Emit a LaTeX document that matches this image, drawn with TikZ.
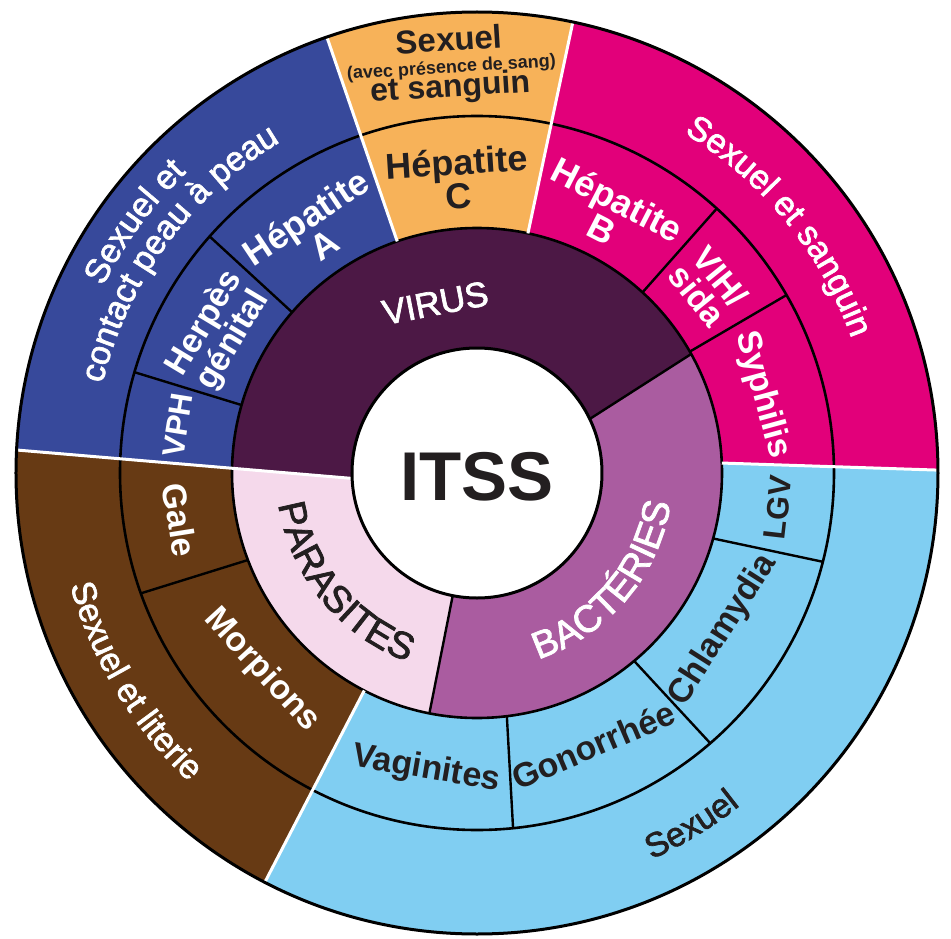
\documentclass[tikz,border=0pt]{standalone}
\usepackage{fontspec}
\setmainfont{Liberation Sans}
\newfontfamily\medfont[FakeBold=2]{Liberation Sans}
\usetikzlibrary{decorations.text}
\definecolor{blueC}{RGB}{55,73,155}
\definecolor{orangeC}{RGB}{247,178,89}
\definecolor{pinkC}{RGB}{226,0,122}
\definecolor{lblueC}{RGB}{128,206,242}
\definecolor{brownC}{RGB}{103,58,20}
\definecolor{virusC}{RGB}{76,24,69}
\definecolor{bactC}{RGB}{170,92,160}
\definecolor{parC}{RGB}{245,217,235}
\definecolor{darkT}{RGB}{35,31,32}
% color, r_in, r_out, a_in_start, a_out_start, a_in_end, a_out_end
\newcommand\ringseg[7]{%
  \fill[#1] (#5:#3pt) arc[start angle=#5, end angle=#7, radius=#3pt]
    -- (#6:#2pt) arc[start angle=#6, end angle=#4, radius=#2pt] -- cycle;}
\newcommand\fRing{\fontsize{34}{30}\selectfont\bfseries}
\newcommand\fHep{\fontsize{36}{30}\selectfont\bfseries}
\newcommand\fOut{\fontsize{34}{34}\selectfont\medfont}
\newcommand\fMid{\fontsize{38}{38}\selectfont\medfont}
\tikzset{
  sepline/.style={draw=black, line width=2.4pt},
  whiteline/.style={draw=white, line width=3pt},
  ringcircle/.style={draw=black, line width=2.6pt},
  lightlabel/.style={text=white, align=center, font=\fRing, inner sep=0pt},
  darklabel/.style={text=darkT, align=center, font=\fRing, inner sep=0pt},
}
\begin{document}
\begin{tikzpicture}[x=1pt,y=1pt]
\useasboundingbox (-477,-465) rectangle (474,473);
% ---- rings 3 and 4 colour groups
\ringseg{blueC}{245}{461}{109}{109}{178.89}{177.14}
\ringseg{brownC}{245}{461}{178.89}{177.14}{242.6}{242.6}
\ringseg{lblueC}{245}{461}{242.6}{242.6}{362.33}{360.36}
\ringseg{pinkC}{245}{461}{2.33}{0.36}{78}{78}
\ringseg{orangeC}{245}{461}{78}{78}{109}{109}
% ---- ring 2
\ringseg{virusC}{125}{245}{25.6}{29.05}{182.49}{178.89}
\ringseg{parC}{125}{245}{182.49}{178.89}{258.8}{258.8}
\ringseg{bactC}{125}{245}{258.8}{258.8}{385.6}{389.05}
% ---- ring circles
\draw[ringcircle] (0,0) circle[radius=245pt];
\draw[ringcircle] (0,0) circle[radius=357pt];
% ---- black separators, ring 3
\draw[sepline] (139:245pt) -- (138.5:357pt);
\draw[sepline] (163.9:245pt) -- (163.6:357pt);
\draw[sepline] (47.5:245pt) -- (47.8:357pt);
\draw[sepline] (29.7:245pt) -- (29.9:357pt);
\draw[sepline] (-15.5:245pt) -- (-14.4:357pt);
\draw[sepline] (-50.1:245pt) -- (-49.2:357pt);
\draw[sepline] (-83:245pt) -- (-84.2:357pt);
\draw[sepline] (200.8:245pt) -- (199.7:357pt);
% ---- black separators, ring 2
\draw[sepline] (25.6:125pt) -- (29.05:245pt);
\draw[sepline] (258.8:125pt) -- (258.8:245pt);
% ---- white separators
\draw[whiteline] (182.49:125pt) -- (177.14:461pt);
\draw[whiteline] (109:245pt) -- (109:461pt);
\draw[whiteline] (78:245pt) -- (78:461pt);
\draw[whiteline] (2.33:245pt) -- (0.36:461pt);
\draw[whiteline] (242.6:245pt) -- (242.6:461pt);
% ---- outer circle and centre
\draw[line width=3pt] (0,0) circle[radius=461pt];
\draw[line width=3pt, fill=white] (0,0) circle[radius=125pt];
\node[text=darkT, font=\fontsize{69}{69}\selectfont\bfseries, inner sep=0pt] (itss) at (0,-4) {ITSS};
% ---- ring 2 labels
\node[text=white, font=\fontsize{35}{35}\selectfont\medfont, anchor=base, rotate=11, inner sep=0pt] (virus) at (104:163pt) {VIRUS};
\path[decorate, decoration={text along path, text={|\fMid|BACTÉRIES}, text align=center, text color=white}]
  (-100.35:196pt) arc[start angle=-100.35, end angle=19.65, radius=196pt];
\path[decorate, decoration={text along path, text={|\fMid|PARASITES}, text align=center, text color=darkT}]
  (159.4:201pt) arc[start angle=159.4, end angle=279.4, radius=201pt];
% ---- ring 3 labels
\node[darklabel, rotate=3.7, font=\fHep] (hepc) at (93.7:295pt) {Hépatite\\C};
\node[lightlabel, rotate=33.8, font=\fHep] (hepa) at (123.8:292pt) {Hépatite\\A};
\node[lightlabel, rotate=59] (herpes) at (151.3:294pt) {Herpès\\génital};
\node[lightlabel, rotate=80.9, font=\fontsize{31}{31}\selectfont\bfseries] (vph) at (170.9:303pt) {VPH};
\node[lightlabel, rotate=-27.2, font=\fHep] (hepb) at (62.8:291pt) {Hépatite\\B};
\node[lightlabel, rotate=-51] (vih) at (38.9:298pt) {VIH/\\sida};
\node[lightlabel, rotate=-74.7] (syph) at (15.3:296pt) {Syphilis};
\node[darklabel, rotate=83.4, font=\fontsize{31}{31}\selectfont\bfseries] (lgv) at (-6.6:303pt) {LGV};
\node[darklabel, rotate=57.5] (chlam) at (-32.5:292pt) {Chlamydia};
\node[darklabel, rotate=23.1] (gono) at (-66.9:296pt) {Gonorrhée};
\node[darklabel, rotate=-9.7] (vagin) at (-99.7:301pt) {Vaginites};
\node[lightlabel, rotate=-47.5] (morp) at (222.5:292pt) {Morpions};
\node[lightlabel, rotate=-81] (gale) at (189:301pt) {Gale};
% ---- ring 4 labels
\node[text=darkT, font=\fontsize{33}{33}\selectfont\bfseries, anchor=base, rotate=3.6, inner sep=0pt] (sx1) at (93.67:423pt) {Sexuel};
\node[text=darkT, font=\fontsize{18}{18}\selectfont\bfseries, anchor=base, rotate=3.6, inner sep=0pt] (sx2) at (93.6:401pt) {(avec présence de sang)};
\node[text=darkT, font=\fontsize{32}{32}\selectfont\bfseries, anchor=base, rotate=3.6, inner sep=0pt] (sx3) at (94:377pt) {et sanguin};
\path[decorate, decoration={text along path, text={|\fOut|Sexuel et}, text align=center, text color=white}]
  (193.75:418pt) arc[start angle=193.75, end angle=93.75, radius=418pt];
\path[decorate, decoration={text along path, text={|\fOut|contact peau à peau}, text align=center, text color=white}]
  (203.65:385pt) arc[start angle=203.65, end angle=83.65, radius=385pt];
\path[decorate, decoration={text along path, text={|\fOut|Sexuel et sanguin}, text align=center, text color=white}]
  (99.2:398pt) arc[start angle=99.2, end angle=-20.8, radius=398pt];
\path[decorate, decoration={text along path, text={|\fOut|Sexuel et literie}, text align=center, text color=white}]
  (151.25:422pt) arc[start angle=151.25, end angle=271.25, radius=422pt];
\path[decorate, decoration={text along path, text={|\fOut|Sexuel}, text align=center, text color=darkT}]
  (-118.65:424pt) arc[start angle=-118.65, end angle=1.35, radius=424pt];
\end{tikzpicture}
\end{document}
